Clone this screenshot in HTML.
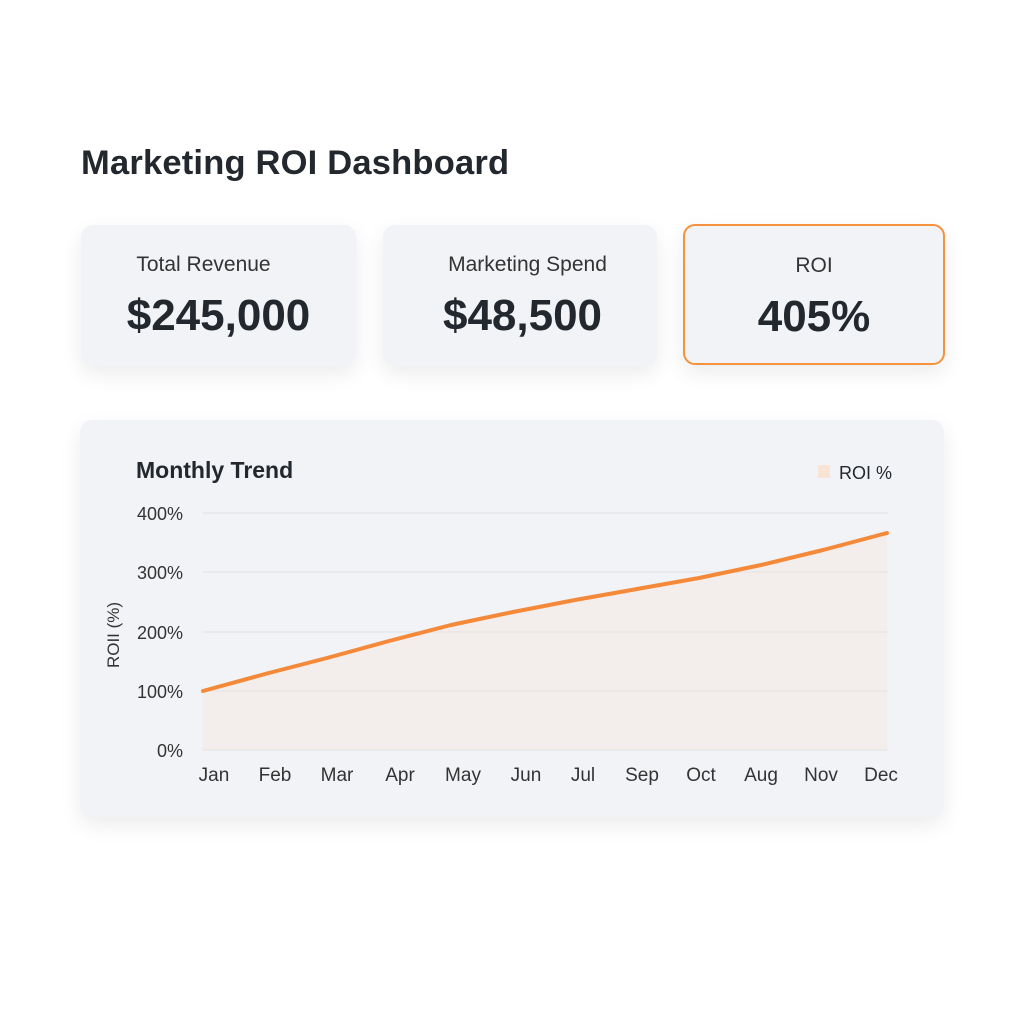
<!DOCTYPE html>
<html><head><style>
body{margin:0;width:1024px;height:1024px;background:#fff;font-family:"Liberation Sans",sans-serif;position:relative;overflow:hidden;color:#222831}
h1{position:absolute;left:81px;top:144px;margin:0;font-size:34.5px;font-weight:600;color:#23272e;letter-spacing:0.2px}
.card{position:absolute;background:#f1f3f6;border-radius:12px;box-shadow:0 8px 22px rgba(0,0,0,0.08);text-align:center}
.lbl{position:absolute;left:0;right:0;top:28px;font-size:21px;color:#333}
.val{position:absolute;left:0;right:0;top:66px;font-size:44px;font-weight:700;color:#23272e}
</style></head><body>
<h1>Marketing ROI Dashboard</h1>
<div class="card" style="left:81px;top:225px;width:275px;height:141px"><div class="lbl" style="left:-30px">Total Revenue</div><div class="val">$245,000</div></div>
<div class="card" style="left:383px;top:225px;width:274px;height:141px"><div class="lbl" style="left:15px">Marketing Spend</div><div class="val" style="left:5px">$48,500</div></div>
<div class="card" style="left:683px;top:224px;width:258px;height:137px;border:2px solid #f5923e"><div class="lbl">ROI</div><div class="val">405%</div></div>
<div class="card" style="left:80px;top:420px;width:864px;height:397px;text-align:left"></div>
<svg style="position:absolute;left:0;top:0" width="1024" height="1024">
<text x="136" y="478" font-size="23" font-weight="700" fill="#23272e" font-family="Liberation Sans">Monthly Trend</text>
<rect x="818" y="465" width="12" height="13" fill="#f8e4d4"/>
<text x="839" y="479" font-size="18" fill="#23272e" font-family="Liberation Sans">ROI %</text>
<g stroke="#e2e4e8" stroke-width="1.2">
<line x1="203" x2="888" y1="513" y2="513"/><line x1="203" x2="888" y1="572" y2="572"/><line x1="203" x2="888" y1="632" y2="632"/><line x1="203" x2="888" y1="691" y2="691"/><line x1="203" x2="888" y1="750" y2="750"/></g>
<g font-size="18" fill="#333" text-anchor="end" font-family="Liberation Sans">
<text x="183" y="520">400%</text><text x="183" y="579">300%</text><text x="183" y="639">200%</text><text x="183" y="698">100%</text><text x="183" y="757">0%</text></g>
<text transform="translate(119,635) rotate(-90)" text-anchor="middle" font-size="17" fill="#333" font-family="Liberation Sans">ROII (%)</text>
<polygon fill="#f7e6d8" opacity="0.35" points="203,750 203,691 265,673 327,659 389,642 451,626 513,612 575,601 637,589 699,577 761,564 823,549 887,533 887,750"/>
<polyline fill="none" stroke="#f5893a" stroke-width="4" stroke-linecap="round" stroke-linejoin="round" points="203,691 265,674 327,658 389,641 451,625 513,612 575,600 637,589 699,578 761,565 823,550 887,533"/>
<g font-size="19" fill="#333" text-anchor="middle" font-family="Liberation Sans">
<text x="214" y="781">Jan</text><text x="275" y="781">Feb</text><text x="337" y="781">Mar</text><text x="400" y="781">Apr</text><text x="463" y="781">May</text><text x="526" y="781">Jun</text><text x="583" y="781">Jul</text><text x="642" y="781">Sep</text><text x="701" y="781">Oct</text><text x="761" y="781">Aug</text><text x="821" y="781">Nov</text><text x="881" y="781">Dec</text></g>
</svg>
</body></html>
